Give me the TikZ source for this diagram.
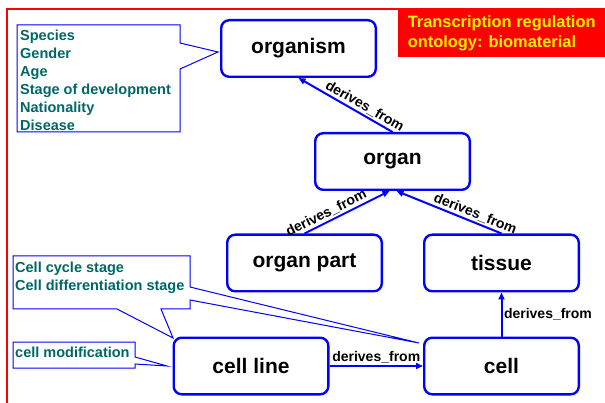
\documentclass[tikz,border=0pt]{standalone}
\usepackage{fontspec}
\setmainfont{Liberation Sans}
\usetikzlibrary{arrows.meta}
\definecolor{calloutteal}{RGB}{0,102,102}
\begin{document}
\begin{tikzpicture}[x=1pt,y=-1pt,
  concept/.style={draw=blue, line width=2.4pt, rounded corners=8pt, fill=white,
    minimum width=154.6pt, minimum height=56.6pt, inner sep=0pt,
    font=\fontsize{21}{25}\selectfont\bfseries},
  rel/.style={draw=blue, line width=2pt, -{Triangle[length=7pt,width=6pt]}},
  relback/.style={draw=blue, line width=2pt, {Triangle[length=7pt,width=6pt]}-},
  rellabel/.style={font=\fontsize{14}{16}\selectfont\bfseries, inner sep=1.5pt},
  callout/.style={draw=blue, line width=1pt, fill=white, line join=miter},
  callouttext/.style={text=calloutteal, font=\fontsize{14.5}{18}\selectfont\bfseries,
    align=left, inner sep=0pt, anchor=north west}
]
\useasboundingbox (0,0) rectangle (605,403);
% red frame
\draw[red, line width=1.3pt] (7,403) -- (7,9) -- (605,9);
% title
\node[fill=red, text=yellow, font=\fontsize{16.4}{20}\selectfont\bfseries, align=left,
  minimum width=207pt, minimum height=48pt, inner sep=0pt, anchor=north west]
  (title) at (398,9) {Transcription regulation\\ontology: biomaterial};

% callout shapes
\coordinate (tip1) at (218,52);
\coordinate (tip2a) at (173,338);
\coordinate (tip2b) at (419,343);
\coordinate (tip3) at (167,366);
\draw[callout] (17,25) -- (180,25) -- (180,43) -- (tip1) -- (180,69) -- (180,132) -- (17,132) -- cycle;
\draw[callout] (13,256) -- (190,256) -- (190,287) -- (tip2b) -- (190,300) -- (190,309)
  -- (161,309) -- (tip2a) -- (117,309) -- (13,309) -- cycle;
\draw[callout] (13,342) -- (135,342) -- (135,357) -- (tip3) -- (135,364) -- (135,368) -- (13,368) -- cycle;

\node[callouttext] (biotext) at (20,29.3) {Species\\Gender\\Age\\Stage of development\\Nationality\\Disease};
\node[callouttext] (stagetext) at (15,261.6) {Cell cycle stage\\Cell differentiation stage};
\node[callouttext] (modtext) at (15,346.3) {cell modification};

% concept nodes
\node[concept] (organism) at (298.5,48.5) {organism};
\node[concept] (organ) at (392.5,161.5) {organ};
\node[concept] (organpart) at (304.5,263) {organ part};
\node[concept] (tissue) at (501.5,263) {tissue};
\node[concept] (cell) at (501.5,366) {cell};
\node[concept] (cellline) at (251,366) {cell line};

% relations
\draw[relback] (organism.south) -- node[rellabel, sloped, above, pos=0.66] {derives\_from} (organ.north);
\draw[rel] (organpart.north) -- node[rellabel, sloped, above, pos=0.3] {derives\_from} ([xshift=-3pt]organ.south);
\draw[relback] ([xshift=4pt]organ.south) -- node[rellabel, sloped, above, pos=0.72] {derives\_from} (tissue.north);
\draw[rel] (cell.north) -- node[rellabel, right, pos=0.5] {derives\_from} (tissue.south);
\draw[rel] (cellline.east) -- node[rellabel, above] {derives\_from} (cell.west);
\end{tikzpicture}
\end{document}
